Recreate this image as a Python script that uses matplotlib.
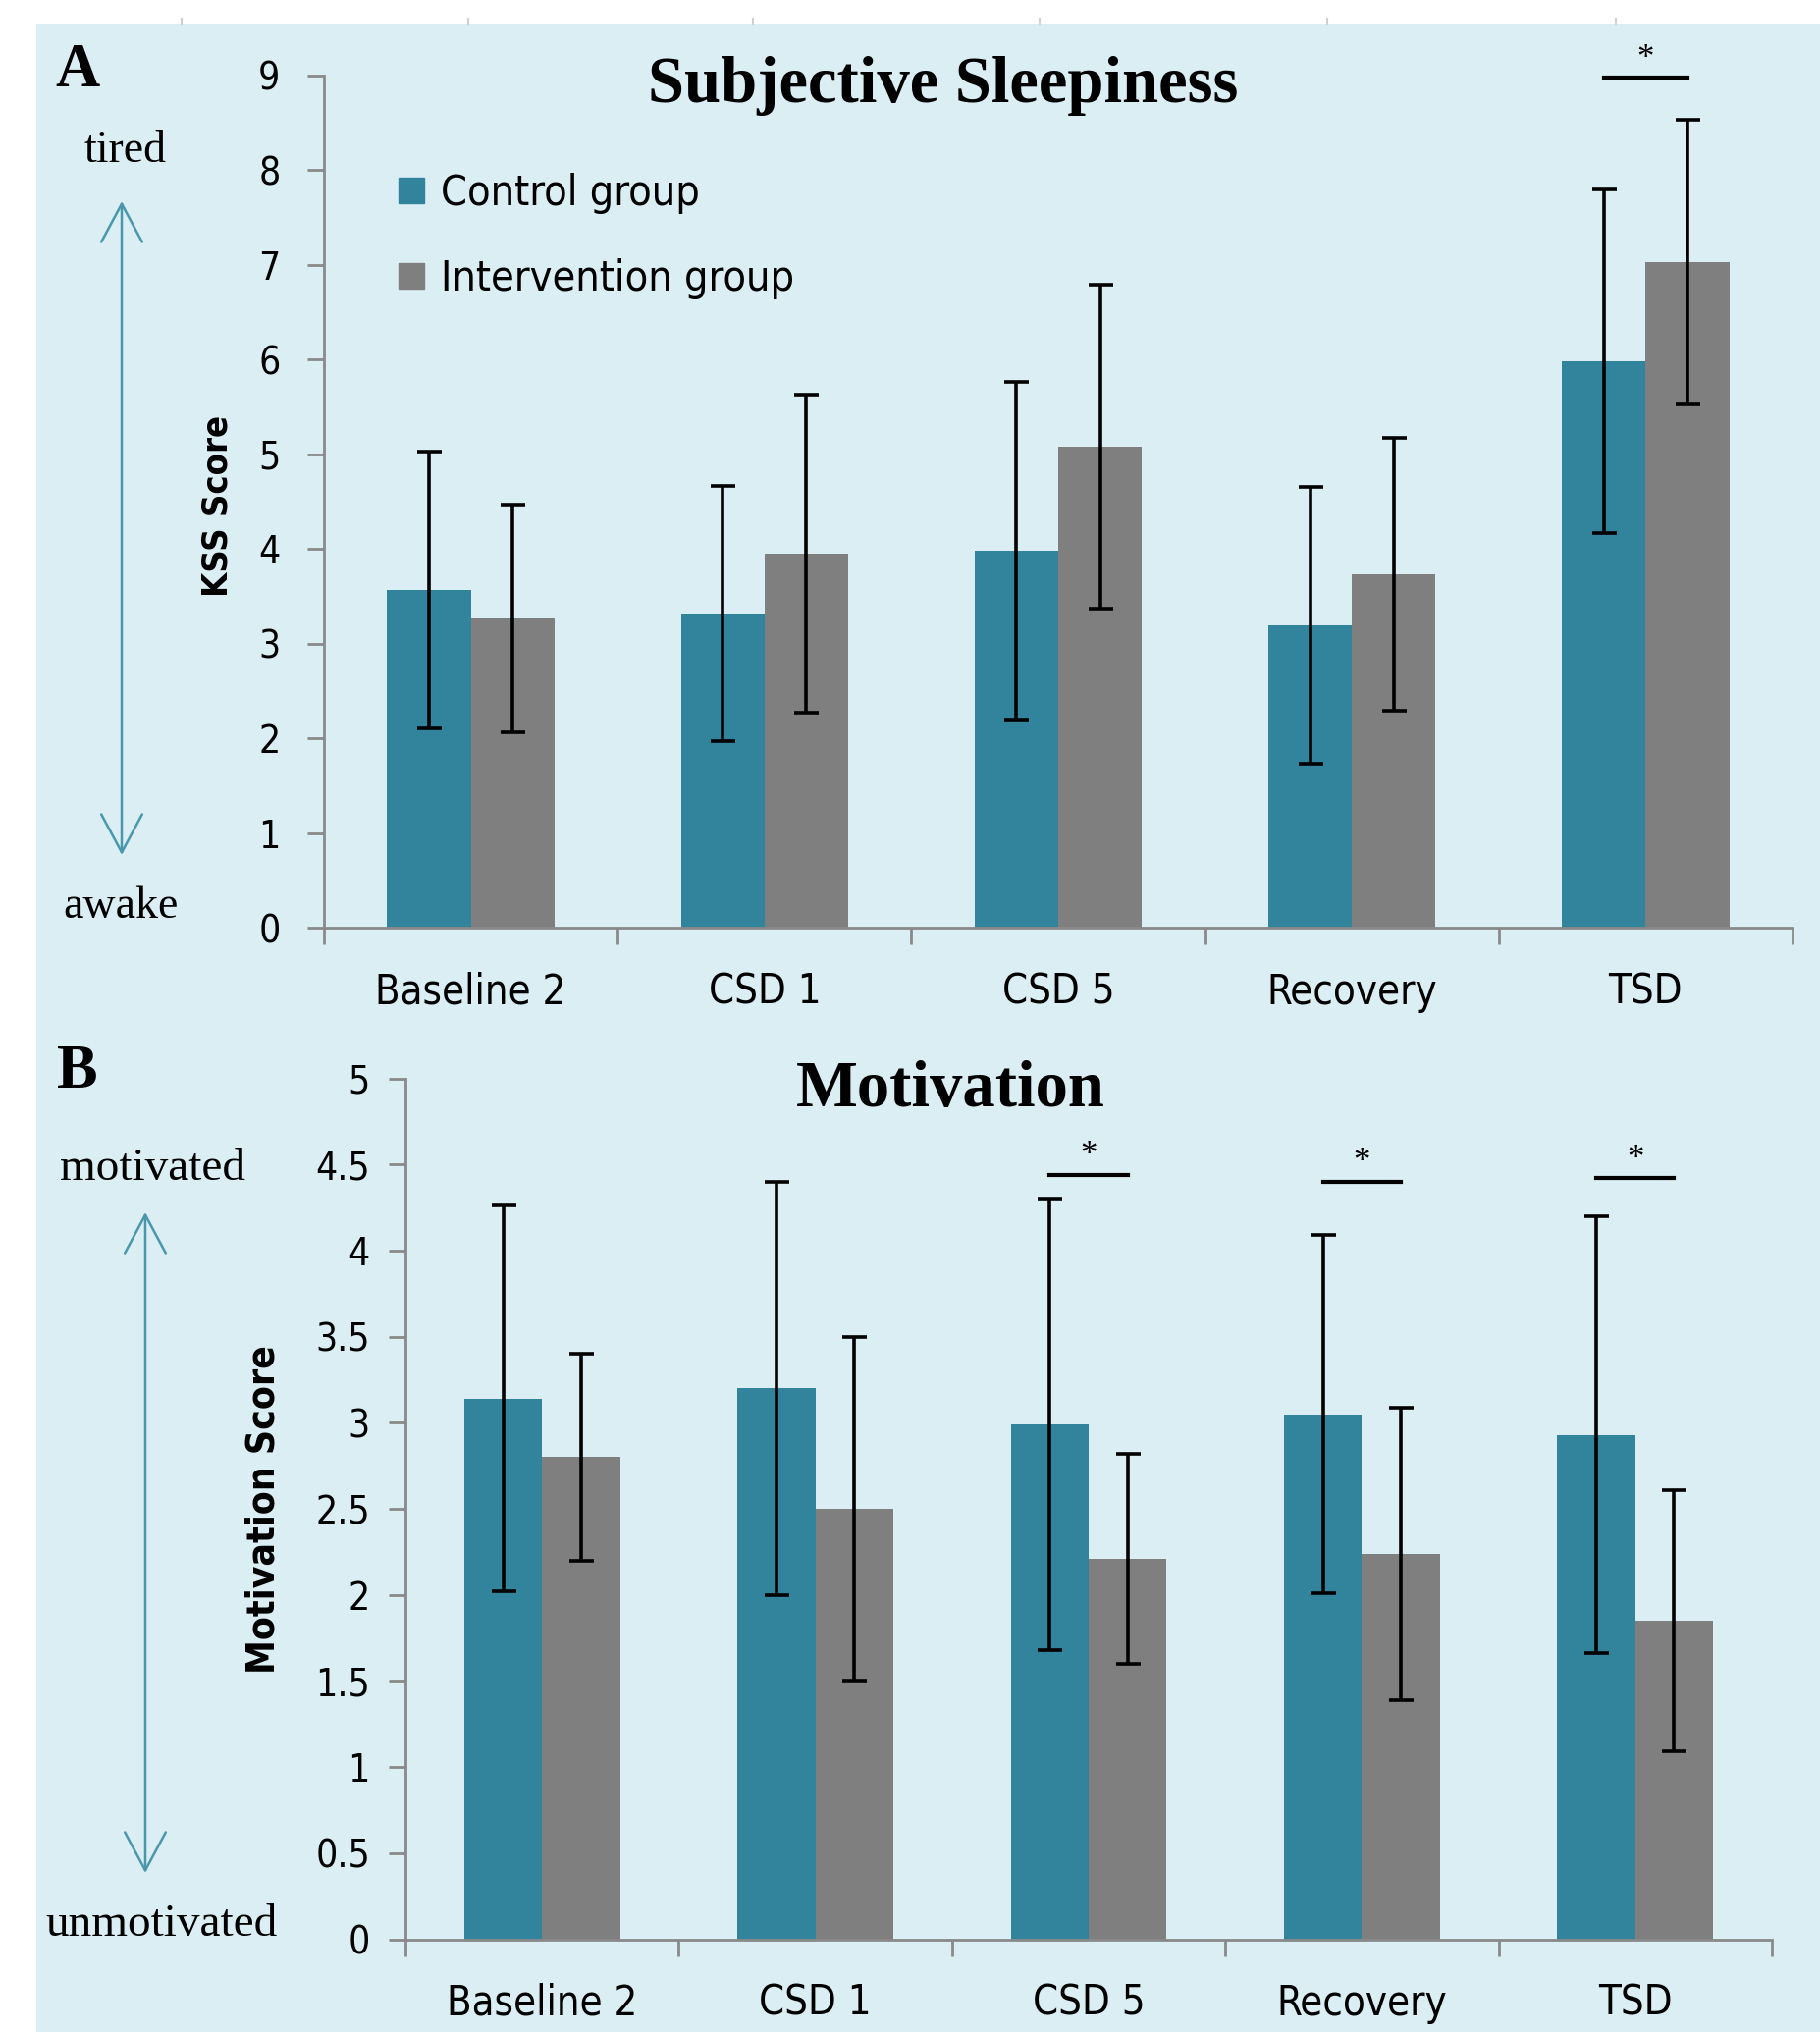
import numpy as np
import matplotlib.pyplot as plt
from matplotlib.patches import Rectangle, FancyArrowPatch
from matplotlib.lines import Line2D

W, H = 1854, 2070
DPI = 100

categories = ["Baseline 2", "CSD 1", "CSD 5", "Recovery", "TSD"]

# KSS scores (mean, sd)
kss_control = [3.57, 3.32, 3.98, 3.20, 5.98]
kss_control_err = [1.46, 1.35, 1.78, 1.46, 1.81]
kss_intervention = [3.27, 3.95, 5.08, 3.73, 7.03]
kss_intervention_err = [1.20, 1.68, 1.71, 1.44, 1.50]
kss_sig = [4]
kss_sig_y = [8.97]

# motivation scores (mean, sd)
mot_control = [3.14, 3.20, 2.99, 3.05, 2.93]
mot_control_err = [1.12, 1.20, 1.31, 1.04, 1.27]
mot_intervention = [2.80, 2.50, 2.21, 2.24, 1.85]
mot_intervention_err = [0.60, 1.00, 0.61, 0.85, 0.76]
mot_sig = [2, 3, 4]
mot_sig_y = [4.44, 4.40, 4.42]

TEAL = "#31849B"
GREY = "#7F7F7F"
BG = "#DAEEF3"
AXIS = "#898989"
ARROW = "#4A97AC"

SANS = dict(family="DejaVu Sans", fontstretch="condensed")
SERIF = "Liberation Serif"


def fx(px):
    return px / W


def fy(py):
    return 1 - py / H


fig = plt.figure(figsize=(W / DPI, H / DPI), dpi=DPI)
fig.patch.set_facecolor("white")
fig.add_artist(Rectangle((fx(37), 0), 1 - fx(37), fy(24), transform=fig.transFigure,
                         facecolor=BG, edgecolor="none", zorder=-10))
# leftover tick marks along the top strip
for px in [185, 477, 767, 1059, 1352, 1646]:
    fig.add_artist(Line2D([fx(px), fx(px)], [fy(19), fy(24)], transform=fig.transFigure,
                          color="#D0D0D0", lw=1.5))


def panel(ax, control, cerr, inter, ierr, ymax, yticks, ylabels, sig, sig_y, tickpad):
    x = np.arange(len(categories))
    w = 0.285
    ax.set_facecolor("none")
    ax.bar(x - w / 2, control, w, color=TEAL, label="Control group", zorder=2)
    ax.bar(x + w / 2, inter, w, color=GREY, label="Intervention group", zorder=2)
    ax.errorbar(x - w / 2, control, yerr=cerr, fmt="none", ecolor="black",
                elinewidth=2.6, capsize=9, capthick=2.6, zorder=3)
    ax.errorbar(x + w / 2, inter, yerr=ierr, fmt="none", ecolor="black",
                elinewidth=2.6, capsize=9, capthick=2.6, zorder=3)
    for i, y in zip(sig, sig_y):
        ax.plot([i - w / 2, i + w / 2], [y, y], color="black", lw=3, clip_on=False)
        ax.annotate("*", (i, y), xytext=(0, 2), textcoords="offset points",
                    ha="center", va="bottom", fontsize=25, family=SERIF,
                    annotation_clip=False)

    ax.set_xlim(-0.5, len(categories) - 0.5)
    ax.set_ylim(0, ymax)
    ax.set_yticks(yticks)
    ax.set_yticklabels(ylabels, fontsize=28, **SANS)
    ax.set_xticks(x)
    ax.set_xticklabels(categories, fontsize=30, **SANS)
    ax.set_xticks(np.arange(-0.5, len(categories)), minor=True)
    ax.tick_params(axis="x", which="major", length=0, pad=32)
    ax.tick_params(axis="x", which="minor", length=12, width=2, color=AXIS, direction="out")
    ax.tick_params(axis="y", length=12, width=2, color=AXIS, direction="out", pad=tickpad)
    for s in ["top", "right"]:
        ax.spines[s].set_visible(False)
    for s in ["left", "bottom"]:
        ax.spines[s].set_color(AXIS)
        ax.spines[s].set_linewidth(2)


axA = fig.add_axes([fx(330), fy(945.5), fx(1826) - fx(330), fy(76.6) - fy(945.5)])
panel(axA, kss_control, kss_control_err, kss_intervention, kss_intervention_err,
      9, range(10), [str(v) for v in range(10)], kss_sig, kss_sig_y, 20)
axA.set_ylabel("KSS Score", fontsize=26, fontweight="bold", **SANS)

axB = fig.add_axes([fx(413), fy(1975.5), fx(1805) - fx(413), fy(1098.7) - fy(1975.5)])
bt = np.arange(0, 5.01, 0.5)
panel(axB, mot_control, mot_control_err, mot_intervention, mot_intervention_err,
      5, bt, ["0", "0.5", "1", "1.5", "2", "2.5", "3", "3.5", "4", "4.5", "5"],
      mot_sig, mot_sig_y, 14)
axB.set_ylabel("Motivation Score", fontsize=28, fontweight="bold", **SANS)

# y-label placement in figure pixels
axA.yaxis.set_label_coords(fx(238), fy(515), transform=fig.transFigure)
axB.yaxis.set_label_coords(fx(288), fy(1538), transform=fig.transFigure)

axA.legend(handles=[Line2D([], [], marker="s", ls="none", markersize=19, color=TEAL, label="Control group"),
                    Line2D([], [], marker="s", ls="none", markersize=19, color=GREY, label="Intervention group")],
           loc="upper left", bbox_to_anchor=(fx(402), fy(176)), bbox_transform=fig.transFigure,
           frameon=False, prop=dict(size=31, family="DejaVu Sans", stretch="condensed"),
           labelspacing=1.05, handlelength=0.8, handletextpad=0.3, borderaxespad=0, borderpad=0)

fig.text(fx(961), fy(88), "Subjective Sleepiness", fontsize=48, fontweight="bold",
         family=SERIF, ha="center", va="center")
fig.text(fx(968), fy(1110), "Motivation", fontsize=48, fontweight="bold",
         family=SERIF, ha="center", va="center")

# panel letters and scale anchors
fig.text(fx(79), fy(73), "A", fontsize=45, fontweight="bold", family=SERIF, ha="center", va="center")
fig.text(fx(79), fy(1093), "B", fontsize=45, fontweight="bold", family=SERIF, ha="center", va="center")
fig.text(fx(128), fy(154), "tired", fontsize=33, family=SERIF, ha="center", va="center")
fig.text(fx(123), fy(924), "awake", fontsize=33, family=SERIF, ha="center", va="center")
fig.text(fx(155), fy(1191), "motivated", fontsize=34, family=SERIF, ha="center", va="center")
fig.text(fx(165), fy(1961), "unmotivated", fontsize=34, family=SERIF, ha="center", va="center")

for xp, y0, y1 in [(124, 205, 871), (148, 1235, 1908)]:
    fig.add_artist(FancyArrowPatch((fx(xp), fy(y0)), (fx(xp), fy(y1)), transform=fig.transFigure,
                                   arrowstyle="<->,head_length=28,head_width=15",
                                   color=ARROW, lw=1.8, shrinkA=0, shrinkB=0))

fig.savefig("out.png", dpi=DPI)
